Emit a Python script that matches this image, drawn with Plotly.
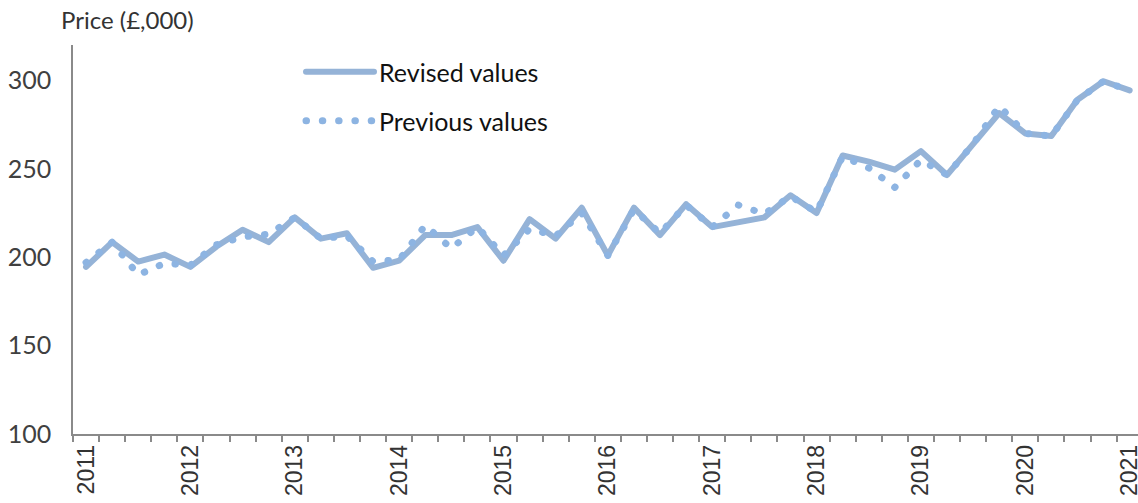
import plotly.graph_objects as go

# Quarterly categories, 2011 Q1 .. 2021 Q1
quarters = [f"{y} Q{q}" for y in range(2011, 2022) for q in range(1, 5)][:41]
year_labels = [str(y) for y in range(2011, 2022)]

revised = [194.5, 208.5, 197.5, 201.5, 194.5, 206.0, 215.5, 208.5, 222.5, 210.5,
           213.5, 194.0, 198.0, 212.5, 212.5, 217.0, 198.0, 221.5, 210.5, 228.0,
           201.0, 228.0, 212.5, 230.0, 217.0, 219.5, 222.5, 235.0, 225.0, 257.5,
           254.0, 249.5, 260.0, 246.5, 264.0, 281.5, 270.0, 268.5, 289.0, 299.5, 294.3]

previous = [197.0, 208.5, 190.0, 196.5, 195.5, 207.0, 211.5, 213.0, 222.5, 210.5,
            212.0, 197.5, 198.5, 218.0, 205.0, 217.0, 201.0, 216.0, 212.0, 225.0,
            201.0, 227.0, 213.5, 229.5, 217.0, 229.5, 224.5, 234.5, 225.5, 257.0,
            250.5, 239.5, 255.0, 246.5, 264.0, 285.5, 270.0, 268.5, 289.0, 299.5, 294.3]

y_ticks = [100, 150, 200, 250, 300]

idx = list(range(len(quarters)))
year_pos = [i for i, q in enumerate(quarters) if q.endswith("Q1")]

axis_grey = "#8a8a8a"

fig = go.Figure()
fig.add_trace(go.Scatter(
    x=idx, y=revised, mode="lines", name="Revised values",
    line=dict(color="#95B3D7", width=6), legend="legend", showlegend=True,
    text=quarters, hoverinfo="text+y"))
fig.add_trace(go.Scatter(
    x=idx, y=previous, mode="lines", name="Previous values",
    line=dict(color="#8DB4E2", width=7, dash="0.5px,15.8px"), legend="legend2",
    showlegend=True, text=quarters, hoverinfo="text+y"))

legend_font = dict(family="Lato, Open Sans, sans-serif", size=25, color="#111111")

fig.update_layout(
    width=1138, height=503,
    margin=dict(l=73, r=0, t=45, b=69, autoexpand=False),
    plot_bgcolor="white", paper_bgcolor="white",
    showlegend=True,
    xaxis=dict(
        range=[-0.5, 40.32], showgrid=False, zeroline=False, automargin=False,
        showline=True, linecolor=axis_grey, linewidth=1.5,
        tickmode="array", tickvals=year_pos, ticktext=year_labels,
        tickangle=-90, ticks="", ticklabelstandoff=0, ticklabeloverflow="allow",
        tickfont=dict(family="Liberation Sans, Arial", size=23, color="#333333"),
        minor=dict(tickmode="array", tickvals=[i - 0.5 for i in range(len(quarters) + 1)],
                   ticks="outside", ticklen=6, tickwidth=1.5, tickcolor=axis_grey,
                   showgrid=False),
    ),
    yaxis=dict(
        range=[100, 320], showgrid=False, zeroline=False, automargin=False,
        showline=True, linecolor=axis_grey, linewidth=1.5,
        tickmode="array", tickvals=y_ticks, ticks="", ticklabelstandoff=15,
        tickfont=dict(family="Lato, Open Sans, sans-serif", size=25, color="#404040"),
    ),
    legend=dict(x=(301 - 73) / 1065, y=1 - (49 - 45) / 389, xanchor="left", yanchor="top",
                itemwidth=68, bgcolor="rgba(0,0,0,0)", font=legend_font),
    legend2=dict(x=(301 - 73) / 1065, y=1 - (98 - 45) / 389, xanchor="left", yanchor="top",
                 itemwidth=68, bgcolor="rgba(0,0,0,0)", font=legend_font, visible=True),
    annotations=[dict(
        text="Price (£,000)", xref="paper", yref="paper",
        x=(59 - 73) / 1065, y=1 + (45 - 20) / 389, xanchor="left", yanchor="middle",
        showarrow=False,
        font=dict(family="Lato, Open Sans, sans-serif", size=24, color="#333333"))],
)

post = ("var s=document.createElement('style');"
        "s.innerHTML='html,body{margin:0;padding:0;overflow:hidden}"
        ".js-line{stroke-linecap:round;stroke-linejoin:round}';"
        "document.head.appendChild(s);")

fig.write_html("out.html", post_script=post, config={"displayModeBar": False})
